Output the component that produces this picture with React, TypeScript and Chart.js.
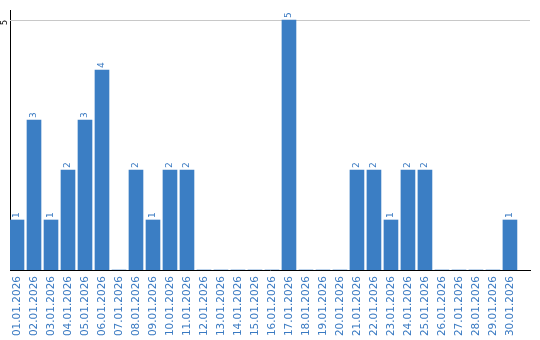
import React, { useEffect, useRef } from "react";
import { Chart, registerables } from "chart.js";

Chart.register(...registerables);

const categories = [
  "01.01.2026", "02.01.2026", "03.01.2026", "04.01.2026", "05.01.2026",
  "06.01.2026", "07.01.2026", "08.01.2026", "09.01.2026", "10.01.2026",
  "11.01.2026", "12.01.2026", "13.01.2026", "14.01.2026", "15.01.2026",
  "16.01.2026", "17.01.2026", "18.01.2026", "19.01.2026", "20.01.2026",
  "21.01.2026", "22.01.2026", "23.01.2026", "24.01.2026", "25.01.2026",
  "26.01.2026", "27.01.2026", "28.01.2026", "29.01.2026", "30.01.2026",
];
const values = [
  1, 3, 1, 2, 3, 4, 0, 2, 1, 2,
  2, 0, 0, 0, 0, 0, 5, 0, 0, 0,
  2, 2, 1, 2, 2, 0, 0, 0, 0, 1,
];
const yTickLabels = [5];

const BAR = "#3b7ec4";
const TEXT = "#3a7ac2";

const labelsPlugin = {
  id: "customLabels",
  beforeDatasetsDraw(chart: any) {
    const ctx = chart.ctx;
    const ys = chart.scales.y;
    const area = chart.chartArea;
    ctx.save();
    ctx.strokeStyle = "#c8c8c8";
    ctx.lineWidth = 1;
    yTickLabels.forEach((t) => {
      const y = Math.round(ys.getPixelForValue(t)) + 0.5;
      ctx.beginPath();
      ctx.moveTo(area.left, y);
      ctx.lineTo(area.right, y);
      ctx.stroke();
    });
    ctx.restore();
  },
  afterDatasetsDraw(chart: any) {
    const ctx = chart.ctx;
    const meta = chart.getDatasetMeta(0);
    ctx.save();
    ctx.font = "9px 'DejaVu Sans'";
    ctx.fillStyle = TEXT;
    ctx.textAlign = "left";
    ctx.textBaseline = "middle";
    meta.data.forEach((el: any, i: number) => {
      const v = values[i];
      if (!v) return;
      ctx.save();
      ctx.translate(el.x, el.y - 2);
      ctx.rotate(-Math.PI / 2);
      ctx.fillText(String(v), 0, 0);
      ctx.restore();
    });
    const ys = chart.scales.y;
    ctx.fillStyle = "#000";
    ctx.font = "8px 'DejaVu Sans'";
    ctx.textAlign = "right";
    yTickLabels.forEach((t) => {
      const y = ys.getPixelForValue(t);
      ctx.save();
      ctx.translate(4.5, y);
      ctx.rotate(-Math.PI / 2);
      ctx.fillText(String(t), 0, 0);
      ctx.restore();
    });
    ctx.restore();
  },
};

export default function App() {
  const ref = useRef<HTMLCanvasElement>(null);
  useEffect(() => {
    document.body.style.margin = "0";
    const chart = new Chart(ref.current!, {
      type: "bar",
      data: {
        datasets: [
          {
            data: values.map((v, i) => ({ x: i, y: v })),
            backgroundColor: BAR,
            barThickness: 14,
          },
        ],
      },
      options: {
        animation: false,
        responsive: false,
        maintainAspectRatio: false,
        layout: { padding: { top: 10, right: 10, left: 0, bottom: 0 } },
        plugins: { legend: { display: false }, tooltip: { enabled: false } },
        scales: {
          x: {
            type: "linear",
            min: -7 / 17,
            max: 30.18,
            offset: false,
            grid: { display: false, drawTicks: false },
            border: { display: true, color: "#000", width: 1 },
            afterBuildTicks(scale: any) {
              scale.ticks = categories.map((_, i) => ({ value: i }));
            },
            ticks: {
              color: TEXT,
              font: { family: "'DejaVu Sans'", size: 10.5 },
              minRotation: 90,
              maxRotation: 90,
              autoSkip: false,
              padding: 6,
              callback: (v: any) => categories[v] ?? "",
            },
            afterFit(scale: any) {
              scale.height = 70;
            },
          },
          y: {
            min: 0,
            max: 5.2,
            ticks: { display: false, stepSize: 5 },
            grid: { display: false, drawTicks: false },
            border: { display: true, color: "#000", width: 1 },
            afterFit(scale: any) {
              scale.width = 10;
            },
          },
        },
      },
      plugins: [labelsPlugin],
    });
    return () => chart.destroy();
  }, []);
  return <canvas ref={ref} width={540} height={340} style={{ display: "block" }} />;
}
